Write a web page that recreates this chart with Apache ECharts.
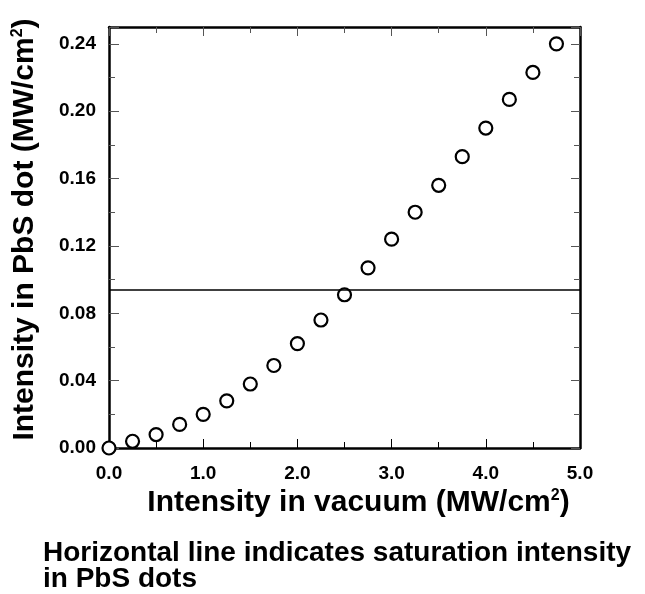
<!DOCTYPE html>
<html>
<head>
<meta charset="utf-8">
<script src="https://cdn.jsdelivr.net/npm/echarts@6/dist/echarts.min.js"></script>
<style>
  html, body { margin: 0; padding: 0; background: #fff; }
  #chart { width: 645px; height: 594px; }
</style>
</head>
<body>
<div id="chart"></div>
<script>
// 数据：真空中的强度 与 PbS 点中的强度
var vacuumIntensity = [0, 0.25, 0.5, 0.75, 1.0, 1.25, 1.5, 1.75, 2.0, 2.25,
                       2.5, 2.75, 3.0, 3.25, 3.5, 3.75, 4.0, 4.25, 4.5, 4.75];
var dotIntensity = [0.000, 0.004, 0.008, 0.014, 0.020, 0.028, 0.038, 0.049, 0.062, 0.076,
                    0.091, 0.107, 0.124, 0.140, 0.156, 0.173, 0.190, 0.207, 0.223, 0.240];
// 饱和强度（水平线）
var saturation = 0.094;
var xTicks = [0, 1, 2, 3, 4, 5];
var yTicks = [0, 0.04, 0.08, 0.12, 0.16, 0.20, 0.24];

var points = vacuumIntensity.map(function (x, i) { return [x, dotIntensity[i]]; });

var font = '"Liberation Sans", Arial, Helvetica, sans-serif';
var myChart = echarts.init(document.getElementById('chart'));

// 标题的上标样式
var titleRich = {
    t: { fontFamily: font, fontWeight: 'bold', fontSize: 30, color: '#000', verticalAlign: 'bottom' },
    s: { fontFamily: font, fontWeight: 'bold', fontSize: 16, color: '#000', verticalAlign: 'top', padding: [0, 0, 14, 0] }
};

// 上、右两条边框轴（只画刻度）
function frameAxis(extra) {
    var a = {
        type: 'value',
        axisLine: { show: true, onZero: false, lineStyle: { color: '#000', width: 2.5 } },
        axisTick: { show: true, inside: true, length: 9, lineStyle: { color: '#555' } },
        minorTick: { show: true, splitNumber: 2, length: 6, lineStyle: { color: '#555' } },
        splitLine: { show: false },
        axisLabel: { show: false }
    };
    for (var k in extra) a[k] = extra[k];
    return a;
}

var option = {
    backgroundColor: '#fff',
    animation: false,
    textStyle: { fontFamily: font },
    title: {
        text: 'Horizontal line indicates saturation intensity\nin PbS dots',
        left: 38,
        top: 535,
        textStyle: { fontFamily: font, fontWeight: 'bold', fontSize: 28, lineHeight: 26, color: '#000' }
    },
    grid: { left: 109, top: 27, width: 471, height: 421, containLabel: false },
    xAxis: [{
        type: 'value',
        min: 0,
        max: 5,
        interval: 1,
        name: '{t|Intensity in vacuum (MW/cm}{s|2}{t|)}',
        nameLocation: 'middle',
        nameGap: 40,
        nameTextStyle: { padding: [0, 0, 0, 28], rich: titleRich },
        axisLine: { onZero: false, lineStyle: { color: '#000', width: 2.5 } },
        axisTick: { inside: true, length: 9, lineStyle: { color: '#000', width: 1 } },
        minorTick: { show: true, splitNumber: 2, length: 6, lineStyle: { color: '#000' } },
        splitLine: { show: false },
        axisLabel: {
            color: '#000', fontWeight: 'bold', fontSize: 19, margin: 16,
            formatter: function (v) { return v.toFixed(1); }
        }
    }, frameAxis({ position: 'top', min: 0, max: 5, interval: 1 })],
    yAxis: [{
        type: 'value',
        min: 0,
        max: 0.25,
        interval: 0.04,
        name: '{t|Intensity in PbS dot (MW/cm}{s|2}{t|)}',
        nameLocation: 'middle',
        nameGap: 69,
        nameRotate: 90,
        nameTextStyle: { padding: [0, 0, 0, 16], rich: titleRich },
        axisLine: { show: true, onZero: false, lineStyle: { color: '#000', width: 2.5 } },
        axisTick: { show: true, inside: true, length: 10, lineStyle: { color: '#555' } },
        minorTick: { show: true, splitNumber: 2, length: 6, lineStyle: { color: '#555' } },
        splitLine: { show: false },
        axisLabel: {
            color: '#000', fontWeight: 'bold', fontSize: 19, margin: 13,
            showMaxLabel: false,
            formatter: function (v) { return v.toFixed(2); }
        }
    }, frameAxis({ position: 'right', min: 0, max: 0.25, interval: 0.04 })],
    series: [{
        type: 'scatter',
        data: points,
        symbol: 'circle',
        symbolSize: 13,
        itemStyle: { color: '#fff', borderColor: '#000', borderWidth: 2.2, opacity: 1 },
        markLine: {
            silent: true,
            precision: 4,
            symbol: ['none', 'none'],
            label: { show: false },
            lineStyle: { color: '#000', width: 1.5, type: 'solid' },
            data: [{ yAxis: saturation }]
        },
        z: 3
    }]
};

myChart.setOption(option);
</script>
</body>
</html>
